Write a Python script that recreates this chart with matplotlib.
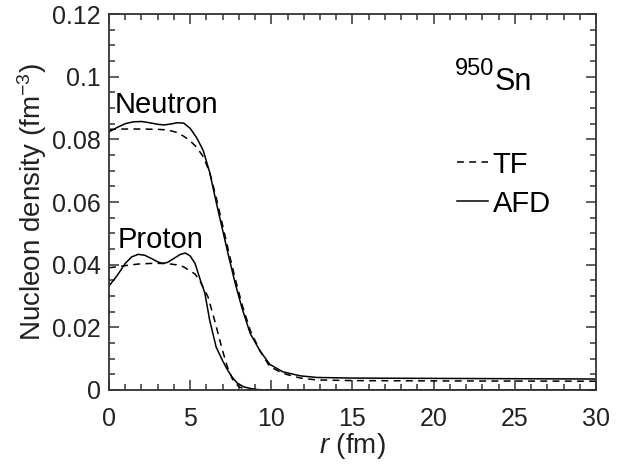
import matplotlib
matplotlib.use('Agg')
import matplotlib.pyplot as plt

plt.rcParams['font.family'] = ['Liberation Sans', 'DejaVu Sans']
plt.rcParams['mathtext.fontset'] = 'custom'
plt.rcParams['mathtext.rm'] = 'Liberation Sans'
plt.rcParams['mathtext.it'] = 'Liberation Sans:italic'

# neutron densities
r_n_afd = [0, 0.5, 1.0, 1.5, 2.0, 2.5, 3.0, 3.4, 3.8, 4.2, 4.6, 5.0, 5.4, 5.8,
           6.2, 6.6, 7.0, 7.4, 7.8, 8.2, 8.7, 9.3, 9.9, 10.7, 11.8, 12.8, 15, 20, 25, 30]
n_afd = [0.0824, 0.0838, 0.0850, 0.0856, 0.0857, 0.0853, 0.0848, 0.0846, 0.0849, 0.0853,
         0.0852, 0.0835, 0.0805, 0.0765, 0.0695, 0.0600, 0.0510, 0.0420, 0.0335, 0.0260,
         0.0180, 0.0125, 0.0082, 0.0058, 0.0045, 0.0040, 0.0038, 0.0037, 0.0036, 0.0035]

r_n_tf = [0, 1, 2, 3, 3.6, 4.2, 4.6, 5.0, 5.4, 5.8, 6.2, 6.6, 7.0, 7.4, 7.8, 8.2,
          8.7, 9.3, 9.9, 10.7, 11.8, 12.8, 15, 20, 30]
n_tf = [0.0832, 0.0833, 0.0833, 0.0832, 0.0830, 0.0822, 0.0810, 0.0795, 0.0775, 0.0745,
        0.0695, 0.0615, 0.0525, 0.0435, 0.0350, 0.0272, 0.0190, 0.0125, 0.0075, 0.0053,
        0.0038, 0.0032, 0.0030, 0.0029, 0.0028]

# proton densities
r_p_afd = [0, 0.5, 1.0, 1.4, 1.8, 2.2, 2.6, 3.0, 3.3, 3.6, 4.0, 4.4, 4.7, 5.0, 5.3,
           5.6, 5.9, 6.2, 6.6, 7.0, 7.3, 7.6, 7.9, 8.3, 8.7, 9.2, 10, 15, 30]
p_afd = [0.0332, 0.0365, 0.0404, 0.0425, 0.0433, 0.0430, 0.0420, 0.0409, 0.0404, 0.0407,
         0.0420, 0.0433, 0.0437, 0.0428, 0.0404, 0.0355, 0.0310, 0.0223, 0.0137, 0.0093,
         0.0064, 0.0040, 0.0022, 0.0010, 0.0005, 0.0001, 0.0, 0.0, 0.0]

r_p_tf = [0, 1, 1.8, 2.6, 3.3, 3.8, 4.25, 4.6, 4.9, 5.3, 5.6, 6.1, 6.5, 7.0, 7.3,
          7.6, 8.0, 8.5, 10, 30]
p_tf = [0.0390, 0.0397, 0.0402, 0.0404, 0.0404, 0.0402, 0.0399, 0.0393, 0.0383, 0.0370,
        0.0348, 0.0297, 0.0223, 0.0125, 0.0072, 0.0035, 0.0010, 0.0001, 0.0, 0.0]

xticks = [0, 5, 10, 15, 20, 25, 30]
yticks = [0, 0.02, 0.04, 0.06, 0.08, 0.1, 0.12]
ytick_labels = ['0', '0.02', '0.04', '0.06', '0.08', '0.1', '0.12']

dash = (0, (4.5, 3.5))

fig = plt.figure(figsize=(6.32, 4.68), dpi=100)
ax = fig.add_axes([0.1725, 0.1667, 0.7705, 0.8033])

ax.plot(r_n_tf, n_tf, color='black', lw=1.1, linestyle=dash, label='TF')
ax.plot(r_n_afd, n_afd, color='black', lw=1.1, label='AFD')
ax.plot(r_p_tf, p_tf, color='black', lw=1.1, linestyle=dash)
ax.plot(r_p_afd, p_afd, color='black', lw=1.1)

ax.set_xlim(0, 30)
ax.set_ylim(0, 0.12)
ax.set_xticks(xticks)
ax.set_xticks(range(0, 31), minor=True)
ax.set_yticks(yticks)
ax.set_yticklabels(ytick_labels)
ax.set_yticks([i * 0.005 for i in range(25)], minor=True)

ax.tick_params(which='both', direction='in', top=True, right=True,
               color='#333333', width=1.1, labelsize=18, labelcolor='#222222')
ax.tick_params(which='major', length=7)
ax.tick_params(which='minor', length=4)
ax.tick_params(axis='x', pad=12)
ax.tick_params(axis='y', pad=6)
for s in ax.spines.values():
    s.set_color('#333333')
    s.set_linewidth(1.3)

ax.set_xlabel(r'$\mathit{r}$ (fm)', fontsize=20, color='#222222', labelpad=0)
ax.set_ylabel(r'Nucleon density (fm$^{-3}$)', fontsize=20, color='#222222', labelpad=2)

ax.text(0.37, 0.091, 'Neutron', fontsize=21, va='center', ha='left')
ax.text(0.5, 0.0479, 'Proton', fontsize=21, va='center', ha='left')
ax.text(21.3, 0.1005, '950', fontsize=17, va='baseline', ha='left')
ax.text(23.75, 0.0957, 'Sn', fontsize=22, va='baseline', ha='left')

ax.legend(loc='upper left', bbox_to_anchor=(0.714, 0.637), frameon=False,
          fontsize=21, handlelength=1.07, handletextpad=0.17, labelspacing=0.38,
          borderpad=0, borderaxespad=0)

fig.savefig('out.png', dpi=100)
